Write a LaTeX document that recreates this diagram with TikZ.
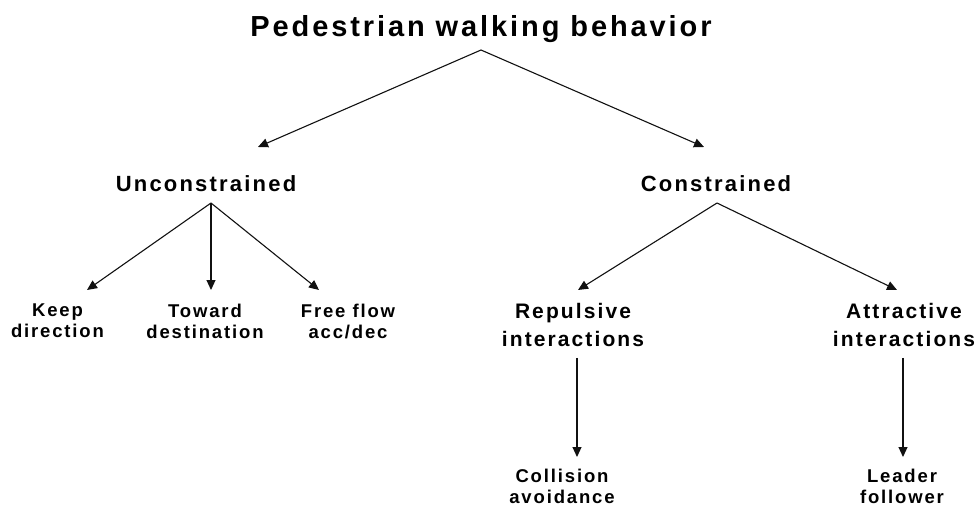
\documentclass[tikz,border=0pt]{standalone}
\usepackage{fontspec}
\usetikzlibrary{arrows.meta}
\newfontfamily\diagfont{Liberation Sans}[LetterSpace=10]
\definecolor{ink}{HTML}{111111}

\begin{document}
\begin{tikzpicture}[x=1pt,y=-1pt,>={Triangle[length=10pt,width=9pt]},
  lbl/.style={inner sep=0pt,align=center,text=black},
  big/.style={lbl,font=\diagfont\bfseries\fontsize{29}{34}\selectfont},
  mid/.style={lbl,font=\diagfont\bfseries\fontsize{22}{26}\selectfont},
  pair/.style={lbl,font=\diagfont\bfseries\fontsize{21}{28}\selectfont},
  leaf/.style={lbl,font=\diagfont\bfseries\fontsize{18.5}{21}\selectfont},
  arr/.style={->,ink,line width=1.1pt}]
\path[use as bounding box] (0,0) rectangle (980,506);
% three levels, placed at their baselines / tops
\node[big,anchor=base] (title) at (481,36) {Pedestrian walking behavior};
\node[mid,anchor=base] (uncon) at (206,191) {Unconstrained};
\node[mid,anchor=base] (con) at (716,191) {Constrained};
\node[leaf,anchor=north] (keep) at (57.5,304) {Keep\\direction};
\node[leaf,anchor=north] (toward) at (205,304) {Toward\\destination};
\node[leaf,anchor=north] (free) at (348,304) {Free flow\\acc/dec};
\node[pair,anchor=north] (repul) at (573,303) {Repulsive\\interactions};
\node[pair,anchor=north] (attr) at (904,303) {Attractive\\interactions};
\node[leaf,anchor=north] (coll) at (562,469) {Collision\\avoidance};
\node[leaf,anchor=north] (leader) at (902,469) {Leader\\follower};
% arrows start a little under each label
\draw[arr] ([yshift=-14pt]title.base) -- ([xshift=52pt,yshift=44pt]uncon.base);
\draw[arr] ([yshift=-14pt]title.base) -- ([xshift=-12pt,yshift=44pt]con.base);
\draw[arr] ([xshift=5pt,yshift=-12pt]uncon.base) -- ([xshift=29.5pt,yshift=14pt]keep.north);
\draw[arr] ([xshift=5pt,yshift=-12pt]uncon.base) -- ([xshift=6pt,yshift=14pt]toward.north);
\draw[arr] ([xshift=5pt,yshift=-12pt]uncon.base) -- ([xshift=-29pt,yshift=14pt]free.north);
\draw[arr] ([xshift=1pt,yshift=-12pt]con.base) -- ([xshift=5pt,yshift=13pt]repul.north);
\draw[arr] ([xshift=1pt,yshift=-12pt]con.base) -- ([xshift=-7pt,yshift=13pt]attr.north);
\draw[arr] ([xshift=4pt,yshift=-11pt]repul.south) -- ([xshift=15pt,yshift=12pt]coll.north);
\draw[arr] ([xshift=-1pt,yshift=-11pt]attr.south) -- ([xshift=1pt,yshift=12pt]leader.north);
\end{tikzpicture}
\end{document}
